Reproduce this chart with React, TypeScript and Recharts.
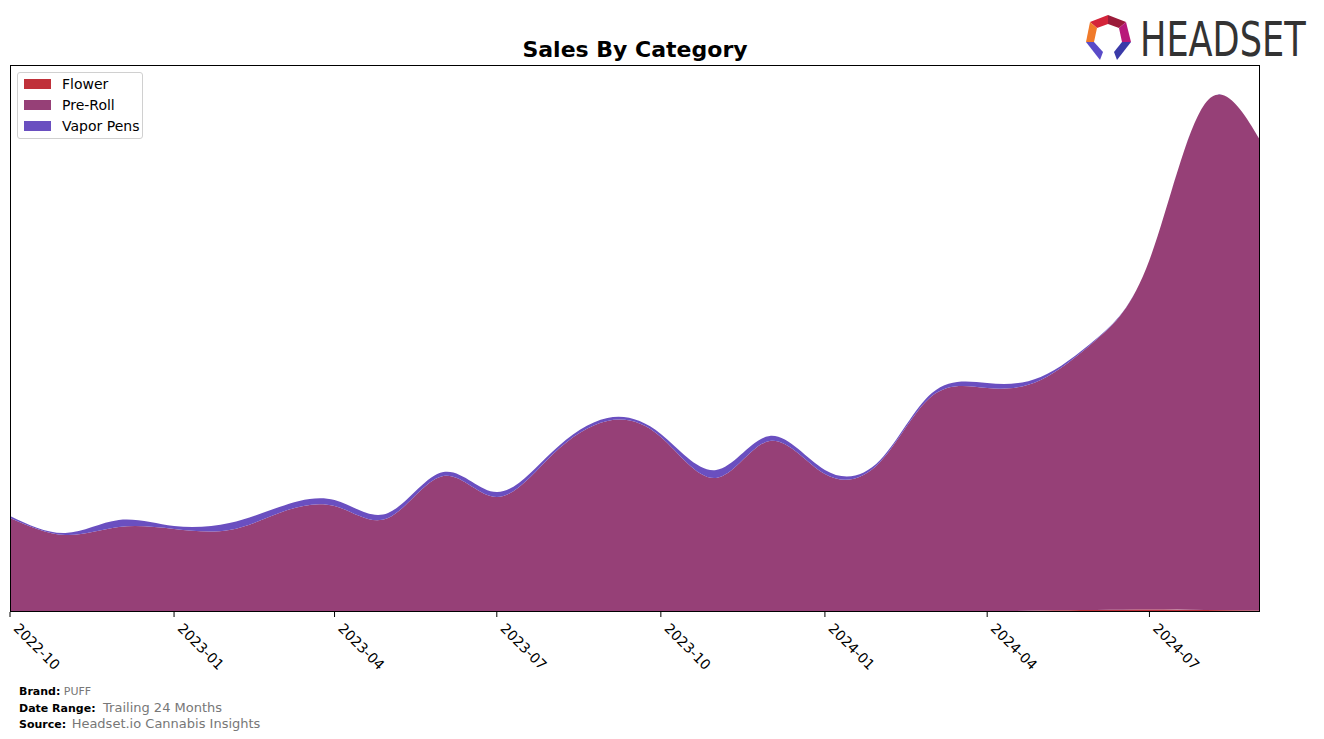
// Sales By Category — área apilada (Flower / Pre-Roll / Vapor Pens), 24 meses.
import { AreaChart, Area, XAxis, YAxis } from 'recharts'

const months = [
  '2022-10', '2022-11', '2022-12', '2023-01', '2023-02', '2023-03',
  '2023-04', '2023-05', '2023-06', '2023-07', '2023-08', '2023-09',
  '2023-10', '2023-11', '2023-12', '2024-01', '2024-02', '2024-03',
  '2024-04', '2024-05', '2024-06', '2024-07', '2024-08', '2024-09',
]
const flower = [0, 0, 0, 0, 0, 0, 0, 0, 0, 0, 0, 1, 0, 0, 0, 0, 0, 0, 0.5, 1.5, 2, 2.5, 2, 1.5]
const preRoll = [
  94, 77, 85, 83, 82, 99, 106, 94, 136, 115, 157, 190,
  175, 134, 171, 138, 150, 216, 223.5, 230.5, 270, 349.5, 506, 470.5,
]
const vaporPens = [2, 2, 7, 3, 7, 6, 6, 5, 4, 5, 3, 3, 3, 8, 5, 4, 2, 3, 5, 3, 1, 0, 0, 0]

const tickMonths = ['2022-10', '2023-01', '2023-04', '2023-07', '2023-10', '2024-01', '2024-04', '2024-07']

const COLORS = { flower: '#c0313a', preRoll: '#964077', vaporPens: '#6a4fc0' }
const FONT = '"DejaVu Sans", sans-serif'

const toTs = (m: string) => {
  const [y, mo] = m.split('-').map(Number)
  return Date.UTC(y, mo - 1, 1)
}

const data = months.map((m, i) => ({
  t: toTs(m),
  flower: flower[i],
  preRoll: preRoll[i],
  vaporPens: vaporPens[i],
}))

const fmt = (t: number) => {
  const d = new Date(t)
  return `${d.getUTCFullYear()}-${String(d.getUTCMonth() + 1).padStart(2, '0')}`
}

function RotTick(props: any) {
  const { x, y, payload } = props
  return (
    <g transform={`translate(${x + 9},${y + 4})`}>
      <text
        x={0}
        y={0}
        dy={9}
        transform="rotate(45)"
        textAnchor="start"
        fontFamily={FONT}
        fontSize={14}
        fill="#000"
      >
        {fmt(payload.value)}
      </text>
    </g>
  )
}

const legendItems = [
  { name: 'Flower', color: COLORS.flower },
  { name: 'Pre-Roll', color: COLORS.preRoll },
  { name: 'Vapor Pens', color: COLORS.vaporPens },
]

function LegendBox() {
  return (
    <div
      style={{
        position: 'absolute',
        left: 17,
        top: 72,
        width: 124,
        height: 65,
        border: '1px solid #d0d0d0',
        borderRadius: 3,
        background: 'rgba(255,255,255,0.8)',
        fontFamily: FONT,
        fontSize: 14,
      }}
    >
      {legendItems.map((it, i) => (
        <div
          key={it.name}
          style={{ position: 'absolute', left: 6, top: 3 + i * 21, display: 'flex', alignItems: 'center' }}
        >
          <span style={{ display: 'inline-block', width: 27, height: 10, background: it.color }} />
          <span style={{ marginLeft: 11, lineHeight: '16px' }}>{it.name}</span>
        </div>
      ))}
    </div>
  )
}

function Logo() {
  return (
    <svg width={1324} height={70} style={{ position: 'absolute', left: 0, top: 0 }}>
      <polygon points="1090,22 1108,15 1108,24 1097,28" fill="#d4243a" />
      <polygon points="1108,15 1126,22 1119,28 1108,24" fill="#9b1b3a" />
      <polygon points="1126,22 1131,42 1122,42 1119,28" fill="#b8197a" />
      <polygon points="1090,22 1097,28 1094,42 1086,42" fill="#f07a2a" />
      <polygon points="1086,42 1094,42 1103,52 1100,60" fill="#5a4bc8" />
      <polygon points="1122,42 1131,42 1117,60 1114,52" fill="#3a3aa8" />
      <g transform="translate(1140,56) scale(0.9,1)">
        <text
          x={0}
          y={0}
          fontFamily='"Liberation Sans Narrow", "DejaVu Sans Condensed", sans-serif'
          fontSize={48}
          textLength={184}
          lengthAdjust="spacingAndGlyphs"
          fill="#333"
        >
          HEADSET
        </text>
      </g>
    </svg>
  )
}

export default function App() {
  return (
    <div style={{ position: 'absolute', left: 0, top: 0, width: 1324, height: 739, background: '#fff' }}>
      <div
        style={{
          position: 'absolute',
          left: 0,
          width: 1270,
          top: 37,
          textAlign: 'center',
          fontFamily: FONT,
          fontWeight: 'bold',
          fontSize: 22,
          lineHeight: '26px',
        }}
      >
        Sales By Category
      </div>
      <Logo />
      <AreaChart
        width={1324}
        height={739}
        data={data}
        margin={{ top: 65, right: 64, bottom: 67, left: 10 }}
        style={{ position: 'absolute', left: 0, top: 0 }}
      >
        <XAxis
          dataKey="t"
          type="number"
          scale="time"
          domain={[toTs('2022-10'), toTs('2024-09')]}
          ticks={tickMonths.map(toTs)}
          tick={<RotTick />}
          tickSize={5}
          tickLine={{ stroke: '#000' }}
          axisLine={false}
          height={60}
          interval={0}
        />
        <YAxis hide type="number" domain={[0, 547]} allowDataOverflow />
        <Area
          type="natural"
          dataKey="flower"
          name="Flower"
          stackId="1"
          fill={COLORS.flower}
          stroke="none"
          fillOpacity={1}
          isAnimationActive={false}
        />
        <Area
          type="natural"
          dataKey="preRoll"
          name="Pre-Roll"
          stackId="1"
          fill={COLORS.preRoll}
          stroke="none"
          fillOpacity={1}
          isAnimationActive={false}
        />
        <Area
          type="natural"
          dataKey="vaporPens"
          name="Vapor Pens"
          stackId="1"
          fill={COLORS.vaporPens}
          stroke="none"
          fillOpacity={1}
          isAnimationActive={false}
        />
      </AreaChart>
      <LegendBox />
      <div
        style={{
          position: 'absolute',
          left: 10,
          top: 65,
          width: 1250,
          height: 547,
          border: '1px solid #000',
          boxSizing: 'border-box',
          pointerEvents: 'none',
        }}
      />
      <div style={{ position: 'absolute', left: 19, top: 684, fontFamily: FONT, fontSize: 11, lineHeight: '15.5px' }}>
        <div>
          <b>Brand:</b> <span style={{ color: '#777' }}>PUFF</span>
        </div>
        <div>
          <b>Date Range:</b> <span style={{ color: '#777', fontSize: 13, marginLeft: 4 }}>Trailing 24 Months</span>
        </div>
        <div>
          <b>Source:</b> <span style={{ color: '#777', fontSize: 13, marginLeft: 2 }}>Headset.io Cannabis Insights</span>
        </div>
      </div>
    </div>
  )
}
